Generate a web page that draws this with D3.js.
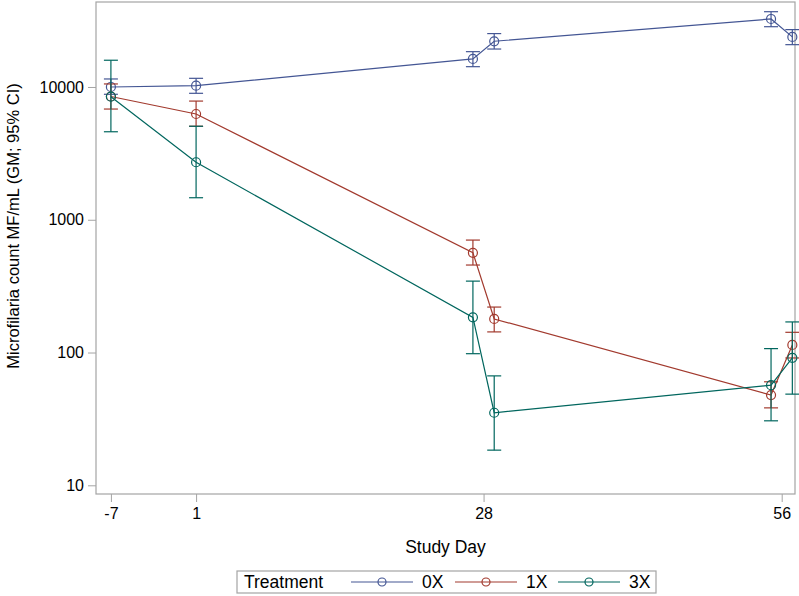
<!DOCTYPE html>
<html>
<head>
<meta charset="utf-8">
<script src="https://cdn.jsdelivr.net/npm/d3@7"></script>
<style>
  body { margin: 0; background: #fff; }
  text { font-family: "Liberation Sans", Arial, sans-serif; fill: #000; }
</style>
</head>
<body>
<script>
// study days of each visit, and tick days shown on the axis
var days = [-7, 1, 27, 29, 55, 57];
var dayTicks = [-7, 1, 28, 56];
var countTicks = [10, 100, 1000, 10000];

var treatments = ["0X", "1X", "3X"];

// geometric means and 95% CI per treatment
var gm0 = [10000, 10230, 16260, 22090, 32520, 23830];
var lo0 = [8810, 8960, 14220, 19310, 28440, 20830];
var hi0 = [11490, 11620, 18450, 25240, 36890, 27040];

var gm1 = [8480, 6260, 564, 179, 47.8, 114];
var lo1 = [6820, 5060, 456, 143, 38.3, 91];
var hi1 = [10540, 7830, 703, 220, 60.2, 142];

var gm3 = [8450, 2710, 184, 35.2, 56.8, 91.3];
var lo3 = [4600, 1465, 98, 18.4, 30.6, 48.6];
var hi3 = [15900, 5060, 345, 66.7, 107, 170];

const WIDTH = 799;
const HEIGHT = 596;
const LEFT = 96, RIGHT = 795, TOP = 2, BOTTOM = 494;
const COLORS = ["#445694", "#A23A2E", "#01665E"];
const FRAME = "#a4a4a4";

var series = [
  { name: treatments[0], gm: gm0, lo: lo0, hi: hi0, color: COLORS[0] },
  { name: treatments[1], gm: gm1, lo: lo1, hi: hi1, color: COLORS[1] },
  { name: treatments[2], gm: gm3, lo: lo3, hi: hi3, color: COLORS[2] }
];

var x = d3.scaleLinear().domain([-8.4, 57.25]).range([LEFT, RIGHT]);
var y = d3.scaleLog().domain([Math.pow(10, 0.9345), Math.pow(10, 4.64)]).range([BOTTOM, TOP]);

var svg = d3.select("body").append("svg")
  .attr("width", WIDTH)
  .attr("height", HEIGHT);

// axes
var plain = function (d) { return String(d); };
var xAxis = d3.axisBottom(x).tickValues(dayTicks).tickFormat(plain).tickSizeOuter(0).tickSize(8).tickPadding(6);
var yAxis = d3.axisLeft(y).tickValues(countTicks).tickFormat(plain).tickSizeOuter(0).tickSize(8).tickPadding(4);

var gx = svg.append("g").attr("transform", "translate(0," + BOTTOM + ")").call(xAxis);
var gy = svg.append("g").attr("transform", "translate(" + LEFT + ",0)").call(yAxis);
[gx, gy].forEach(function (g) {
  g.select(".domain").remove();
  g.selectAll(".tick line").attr("stroke", FRAME);
  g.selectAll(".tick text").style("font-size", "16px").attr("fill", "#000")
    .style("font-family", '"Liberation Sans", Arial, sans-serif');
});

svg.append("rect")
  .attr("x", LEFT).attr("y", TOP)
  .attr("width", RIGHT - LEFT).attr("height", BOTTOM - TOP)
  .attr("fill", "none").attr("stroke", FRAME).attr("stroke-width", 1.2);

svg.append("text")
  .attr("x", (LEFT + RIGHT) / 2).attr("y", 553)
  .attr("text-anchor", "middle")
  .style("font-size", "17.5px")
  .text("Study Day");

svg.append("text")
  .attr("transform", "translate(19," + 226 + ") rotate(-90)")
  .attr("text-anchor", "middle")
  .style("font-size", "16.5px")
  .text("Microfilaria count MF/mL (GM; 95% CI)");

// data
var line = d3.line()
  .x(function (d) { return x(d.day); })
  .y(function (d) { return y(d.gm); });

var CAP = 7;

series.forEach(function (s) {
  var pts = days.map(function (d, i) {
    return { day: d, gm: s.gm[i], lo: s.lo[i], hi: s.hi[i] };
  });
  var g = svg.append("g").attr("stroke", s.color).attr("fill", "none").attr("stroke-width", 1.2);

  g.append("path").attr("d", line(pts));

  var bars = g.selectAll(".bar").data(pts).enter().append("g");
  bars.append("line")
    .attr("x1", function (d) { return x(d.day); })
    .attr("x2", function (d) { return x(d.day); })
    .attr("y1", function (d) { return y(d.lo); })
    .attr("y2", function (d) { return y(d.hi); });
  bars.append("line")
    .attr("x1", function (d) { return x(d.day) - CAP; })
    .attr("x2", function (d) { return x(d.day) + CAP; })
    .attr("y1", function (d) { return y(d.lo); })
    .attr("y2", function (d) { return y(d.lo); });
  bars.append("line")
    .attr("x1", function (d) { return x(d.day) - CAP; })
    .attr("x2", function (d) { return x(d.day) + CAP; })
    .attr("y1", function (d) { return y(d.hi); })
    .attr("y2", function (d) { return y(d.hi); });

  g.selectAll("circle").data(pts).enter().append("circle")
    .attr("cx", function (d) { return x(d.day); })
    .attr("cy", function (d) { return y(d.gm); })
    .attr("r", 4.5);
});

// legend
var legend = svg.append("g");
legend.append("rect")
  .attr("x", 237).attr("y", 571).attr("width", 419).attr("height", 22)
  .attr("fill", "none").attr("stroke", FRAME).attr("stroke-width", 1.2);
legend.append("text")
  .attr("x", 244).attr("y", 588)
  .style("font-size", "17.5px")
  .text("Treatment");

var legX = [351, 455, 558];
series.forEach(function (s, i) {
  var g = legend.append("g").attr("stroke", s.color).attr("fill", "none").attr("stroke-width", 1.2);
  g.append("line").attr("x1", legX[i]).attr("x2", legX[i] + 62).attr("y1", 582).attr("y2", 582);
  g.append("circle").attr("cx", legX[i] + 31).attr("cy", 582).attr("r", 4);
  legend.append("text")
    .attr("x", legX[i] + 71).attr("y", 588)
    .style("font-size", "17.5px")
    .text(s.name);
});
</script>
</body>
</html>
